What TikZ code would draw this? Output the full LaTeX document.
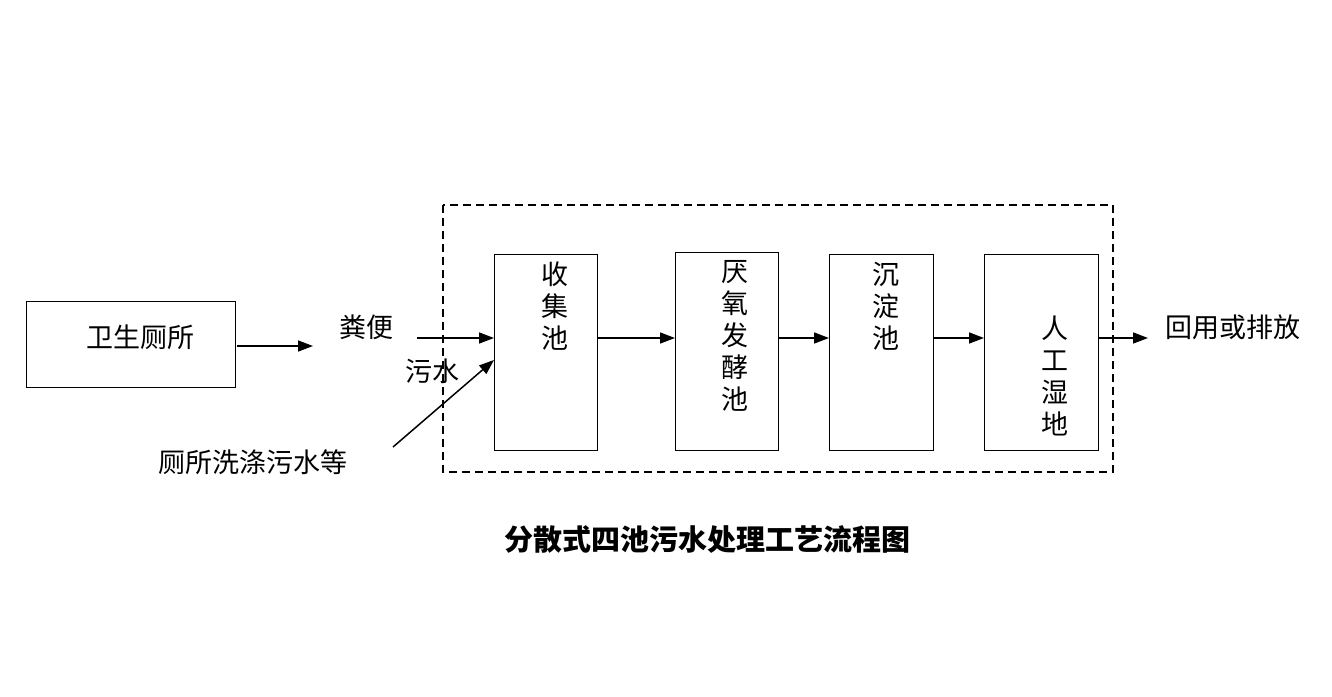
\documentclass[tikz,border=0pt]{standalone}
\usepackage{fontspec}
\setmainfont{Noto Sans CJK SC}
\usetikzlibrary{arrows.meta}
\begin{document}
\begin{tikzpicture}[x=1pt,y=-1pt,
  box/.style={draw,line width=1.2pt,anchor=north west,inner sep=0pt},
  arr/.style={-{Triangle[length=15pt,width=11pt]},line width=1.5pt},
  lab/.style={font=\fontsize{27}{32}\selectfont},
  vt/.style={font=\fontsize{27}{32}\selectfont,align=center,inner sep=0pt}]
\useasboundingbox (0,0) rectangle (1332,696);
\draw[line width=1.5pt,dash pattern=on 8pt off 5pt] (443,205) rectangle (1113,472);
\node[box,minimum width=209pt,minimum height=86pt] (wc) at (26,301) {};
\node[lab] at (140,337) {卫生厕所};
\coordinate (wcR) at (237,346);
\coordinate (wcE) at (313,346);
\draw[arr] (wcR) -- (wcE);
\node[lab] (fb) at (366,327) {粪便};
\node[box,minimum width=103pt,minimum height=196pt] (b1) at (494,254) {};
\node[box,minimum width=103pt,minimum height=198pt] (b2) at (675,252) {};
\node[box,minimum width=104pt,minimum height=196pt] (b3) at (829,254) {};
\node[box,minimum width=114pt,minimum height=196pt] (b4) at (984,254) {};
\node[vt,anchor=north] at (555,262) {收\\集\\池};
\node[vt,anchor=north] at (735,260) {厌\\氧\\发\\酵\\池};
\node[vt,anchor=north] at (886,262) {沉\\淀\\池};
\node[vt,anchor=north] at (1055,316) {人\\工\\湿\\地};
\coordinate (in1) at (417,338);
\draw[arr] (in1) -- (b1.west |- in1);
\node[lab] at (432,371) {污水};
\coordinate (in2) at (393,447);
\coordinate (in2e) at (494,360);
\draw[arr] (in2) -- (in2e);
\node[lab] at (253,462) {厕所洗涤污水等};
\draw[arr] (b1.east |- 0,338) -- (b2.west |- 0,338);
\draw[arr] (b2.east |- 0,338) -- (b3.west |- 0,338);
\draw[arr] (b3.east |- 0,338) -- (b4.west |- 0,338);
\coordinate (out) at (1148,338);
\draw[arr] (b4.east |- out) -- (out);
\node[lab] at (1233,327) {回用或排放};
\node[font=\fontsize{29}{34}\selectfont\bfseries] at (707,540) {分散式四池污水处理工艺流程图};
\end{tikzpicture}
\end{document}
